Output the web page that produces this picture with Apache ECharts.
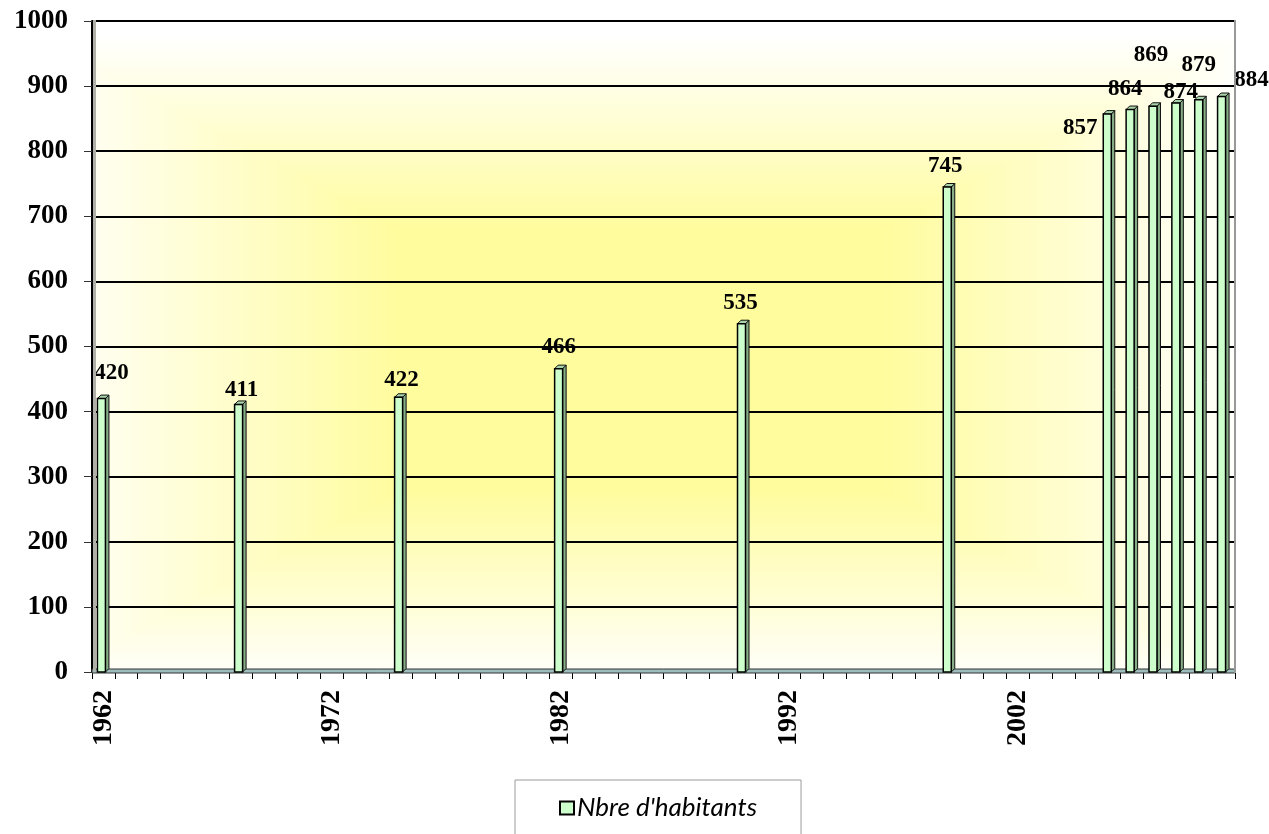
<!DOCTYPE html>
<html><head><meta charset="utf-8">
<script src="https://cdn.jsdelivr.net/npm/echarts/dist/echarts.min.js"></script>
<style>html,body{margin:0;padding:0;background:#fff}#c{width:1269px;height:834px}</style>
</head><body><div id="c"></div>
<script>
// ---- data ----
const firstYear = 1962;
const lastYear = 2011;
const years = [1962, 1968, 1975, 1982, 1990, 1999, 2006, 2007, 2008, 2009, 2010, 2011];
const habitants = [420, 411, 422, 466, 535, 745, 857, 864, 869, 874, 879, 884];
const yMin = 0, yMax = 1000, yStep = 100;
const seriesName = "Nbre d'habitants";
// label nudges (style only: px offsets from the bar top)
const labelNudge = [[10,-26],[3,-14],[3,-17],[0,-22],[-1,-21],[-2,-21],[-27,14],[-5,-20],[-2,-51],[5,-11],[0,-35],[30,-16]];

const categories = [];
for (let y = firstYear; y <= lastYear; y++) categories.push(String(y));

// ---- layout ----
const G = {left: 92, top: 21, width: 1143, height: 651};

// background: rectangular "from center" gradient
function makeBg(w, h) {
  const c = document.createElement('canvas');
  c.width = w; c.height = h;
  const ctx = c.getContext('2d');
  const img = ctx.createImageData(w, h);
  const cx = 0.48 * w, cy = 0.52 * h, ax = 0.53 * w, ay = 0.5 * h;
  const Y = [255, 252, 158];
  for (let j = 0; j < h; j++) {
    for (let i = 0; i < w; i++) {
      const t = Math.max(Math.abs(i - cx) / ax, Math.abs(j - cy) / ay);
      let f = (t - 0.4) / 0.6; f = Math.min(1, Math.max(0, f));
      const k = (j * w + i) * 4;
      img.data[k] = Math.round(Y[0] + (255 - Y[0]) * f);
      img.data[k+1] = Math.round(Y[1] + (255 - Y[1]) * f);
      img.data[k+2] = Math.round(Y[2] + (255 - Y[2]) * f);
      img.data[k+3] = 255;
    }
  }
  ctx.putImageData(img, 0, 0);
  return c;
}

const chart = echarts.init(document.getElementById('c'), null, {renderer: 'canvas'});

function renderItem(params, api) {
  const idx = api.value(0), v = api.value(1), k = api.value(2);
  const p = api.coord([idx, v]);
  const b = api.coord([idx, 0]);
  const w = 8, d = 3.5, cx = p[0] - 2;
  const l = cx - w / 2, r = cx + w / 2, t = p[1], bt = b[1];
  const n = labelNudge[k] || [0, -18];
  return {
    type: 'group',
    children: [
      {type: 'polygon', shape: {points: [[r, t], [r + d, t - d], [r + d, bt - d], [r, bt]]},
        style: {fill: '#86ad86', stroke: '#111', lineWidth: 1}},
      {type: 'polygon', shape: {points: [[l, t], [l + d, t - d], [r + d, t - d], [r, t]]},
        style: {fill: '#a9d4a9', stroke: '#111', lineWidth: 1}},
      {type: 'rect', shape: {x: l, y: t, width: w, height: bt - t},
        style: {fill: '#ccffcc', stroke: '#000', lineWidth: 1.5}},
      {type: 'text', x: cx + n[0], y: t + n[1],
        style: {text: String(v), font: 'bold 23px "Liberation Serif"', align: 'center', verticalAlign: 'middle', fill: '#000'}}
    ]
  };
}

chart.setOption({
  animation: false,
  backgroundColor: '#fff',
  grid: {left: G.left, top: G.top, width: G.width, height: G.height, containLabel: false},
  legend: {
    data: [{name: seriesName, icon: 'rect'}],
    left: 515, top: 780,
    padding: [15, 44, 40, 44],
    borderColor: '#9a9a9a', borderWidth: 1,
    itemWidth: 14, itemHeight: 13,
    itemStyle: {color: '#ccffcc', borderColor: '#000', borderWidth: 2},
    textStyle: {fontFamily: 'Lato', fontStyle: 'italic', fontSize: 26, color: '#000', padding: [0, 0, 0, -2]}
  },
  xAxis: {
    type: 'category', data: categories, boundaryGap: true,
    axisLine: {show: true, lineStyle: {color: '#000', width: 1}},
    axisTick: {show: true, interval: 0, length: 7, lineStyle: {color: '#000', width: 1}},
    axisLabel: {interval: 9, rotate: 90, margin: 18, color: '#000',
      fontFamily: 'Liberation Serif', fontWeight: 'bold', fontSize: 28},
    splitLine: {show: false}
  },
  yAxis: {
    type: 'value', min: yMin, max: yMax, interval: yStep,
    axisLine: {show: true, lineStyle: {color: '#000', width: 2}},
    axisTick: {show: true, length: 8, lineStyle: {color: '#333', width: 1}},
    axisLabel: {margin: 24, color: '#000', fontFamily: 'Liberation Serif', fontWeight: 'bold', fontSize: 27,
      padding: [6, 0, 0, 0],
      formatter: function (v) { return String(v); }},
    splitLine: {show: true, lineStyle: {color: '#000', width: 2}}
  },
  graphic: [
    {type: 'image', left: G.left, top: G.top, z: -10,
      style: {image: makeBg(G.width, G.height), x: 0, y: 0, width: G.width, height: G.height}},
    {type: 'rect', z: 1, shape: {x: G.left, y: G.top + G.height - 3, width: G.width, height: 4},
      style: {fill: '#9dbdbd', stroke: '#333', lineWidth: 1}},
    {type: 'rect', z: 5, shape: {x: G.left + 1, y: G.top - 1, width: 3, height: G.height},
      style: {fill: '#b0b0a8'}},
    {type: 'line', z: 5, shape: {x1: G.left + G.width, y1: G.top - 1, x2: G.left + G.width, y2: G.top + G.height + 1},
      style: {stroke: '#999', lineWidth: 2}}
  ],
  series: [{
    name: seriesName, type: 'custom', renderItem: renderItem,
    itemStyle: {color: '#ccffcc'},
    encode: {x: 0, y: 1},
    data: years.map((y, i) => [String(y), habitants[i], i]),
    z: 3
  }]
});
</script></body></html>
